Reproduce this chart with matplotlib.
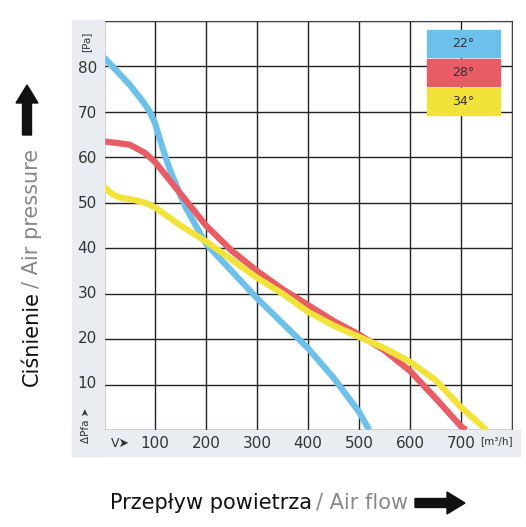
import matplotlib
matplotlib.use("Agg")
import matplotlib.pyplot as plt
from matplotlib.patches import Rectangle, FancyArrow

blue_x = [0, 25, 50, 75, 90, 100, 115, 130, 160, 200, 250, 300, 350, 400, 450, 500, 520]
blue_y = [82, 79, 76, 72.5, 70, 67.5, 62, 57, 49, 41, 35, 29, 23.5, 18, 11.5, 4, 0]
red_x = [0, 50, 80, 100, 125, 150, 200, 250, 300, 350, 400, 450, 500, 550, 600, 650, 700, 710]
red_y = [63.5, 62.8, 61, 59, 55.5, 52, 45, 39.5, 35, 31, 27.5, 24, 21, 17.5, 13, 7, 0.8, 0]
yel_x = [0, 15, 30, 60, 80, 100, 125, 150, 200, 250, 300, 350, 400, 450, 500, 550, 600, 650, 700, 750]
yel_y = [53.5, 52, 51.2, 50.6, 50, 49, 47, 45, 41.5, 37.5, 33.5, 30, 26, 23, 20.5, 18, 15, 11, 5, 0]
labels = ["22°", "28°", "34°"]
colors = ["#6cc0ea", "#e85c66", "#f2e33a"]
xticks = [100, 200, 300, 400, 500, 600, 700]
yticks = [10, 20, 30, 40, 50, 60, 70, 80]

W, H = 526, 527
fig = plt.figure(figsize=(W/100, H/100), dpi=100)
bg = "#e9edf2"
fig.patches.append(Rectangle((72/W, (527-456)/H), 32/W, (456-20)/H, transform=fig.transFigure, color=bg, zorder=0))
fig.patches.append(Rectangle((72/W, (527-456)/H), (520-72)/W, 26/H, transform=fig.transFigure, color=bg, zorder=0))

ax = fig.add_axes([104/W, (527-430)/H, (512-104)/W, (430-21)/H])
ax.set_xlim(0, 800)
ax.set_ylim(0, 90)
ax.set_xticks(range(0, 801, 100))
ax.set_yticks(range(0, 91, 10))
ax.grid(True, color="#222222", lw=1)
ax.tick_params(length=0, labelbottom=False, labelleft=False)
for s in ax.spines.values():
    s.set_color("#444444")
for x, y, c in [(blue_x, blue_y, colors[0]), (red_x, red_y, colors[1]), (yel_x, yel_y, colors[2])]:
    ax.plot(x, y, color=c, lw=4.5, solid_capstyle="butt", solid_joinstyle="round", zorder=3)

for t in xticks:
    fig.text((104 + t*0.51)/W, 1-443/H, str(t), ha="center", va="center", fontsize=11, color="#333333")
for t in yticks:
    fig.text(97/W, 1 - (429 - t*4.51)/H, str(t), ha="right", va="center", fontsize=11, color="#333333")
fig.text(120/W, 1-443/H, "V➤", ha="center", va="center", fontsize=9, color="#333333")
fig.text(496/W, 1-441/H, "[m³/h]", ha="center", va="center", fontsize=7.5, color="#333333")
fig.text(86/W, 1-42/H, "[Pa]", ha="center", va="center", fontsize=7.5, color="#333333", rotation=90)
fig.text(86/W, 1-425/H, "ΔPfa ➤", ha="center", va="center", fontsize=7.5, color="#333333", rotation=90)

for i, (lab, c) in enumerate(zip(labels, colors)):
    y0 = 30 + i*29
    fig.patches.append(Rectangle((427/W, 1-(y0+27)/H), 73/W, 27/H, transform=fig.transFigure, color=c, zorder=5))
    fig.text(463/W, 1-(y0+13.5)/H, lab, ha="center", va="center", fontsize=9, color="#333333", zorder=6)

fig.text(32/W, 1-338/H, "Ciśnienie", rotation=90, ha="center", va="center", fontsize=15, color="#111111")
fig.text(32/W, 1-218/H, "/ Air pressure", rotation=90, ha="center", va="center", fontsize=15, color="#888888")
fig.text(110/W, 1-503/H, "Przepływ powietrza", ha="left", va="center", fontsize=15, color="#111111")
fig.text(316/W, 1-503/H, "/ Air flow", ha="left", va="center", fontsize=15, color="#888888")
fig.patches.append(FancyArrow(27/W, 1-135/H, 0, 50/H, width=9/W, head_width=22/W, head_length=18/H,
                              transform=fig.transFigure, color="#111111", length_includes_head=True))
fig.patches.append(FancyArrow(415/W, 1-503/H, 50/W, 0, width=9/H, head_width=22/H, head_length=18/W,
                              transform=fig.transFigure, color="#111111", length_includes_head=True))
fig.savefig("out.png", dpi=100)
